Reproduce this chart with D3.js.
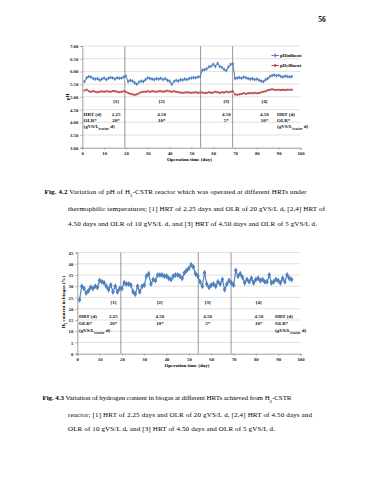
<!DOCTYPE html>
<html><head><meta charset="utf-8">
<script src="https://cdn.jsdelivr.net/npm/d3@7"></script>
<style>
html,body{margin:0;padding:0;background:#fff;}
svg{display:block;}
</style></head>
<body>
<script>
// ---------- DATA ----------
const days = [1,2,3,4,5,6,7,8,9,10,11,12,13,14,15,16,17,18,19,20,
  21,22,23,24,25,26,27,28,29,30,31,32,33,34,35,36,37,38,39,40,41,42,43,44,45,46,47,48,49,50,51,52,53,54,
  55,56,57,58,59,60,61,62,63,64,65,66,67,68,69,
  70,71,72,73,74,75,76,77,78,79,80,81,82,83,84,85,86,87,88,89,90,91,92,93,94,95,96];

const pHinfluent = [5.60,5.75,5.80,5.78,5.72,5.70,5.72,5.66,5.70,5.74,5.68,5.73,5.76,5.74,5.70,5.75,5.73,5.74,5.78,5.82,
  5.60,5.65,5.62,5.55,5.50,5.58,5.62,5.60,5.68,5.75,5.72,5.70,5.68,5.72,5.70,5.73,5.68,5.72,5.65,5.62,5.50,5.60,5.65,5.62,5.68,5.66,5.70,5.68,5.72,5.74,5.76,5.75,5.78,5.80,
  6.05,6.07,6.10,6.18,6.20,6.28,6.20,6.32,6.20,6.15,6.08,6.03,6.18,6.28,6.30,
  5.72,5.74,5.76,5.73,5.78,5.75,5.72,5.70,5.72,5.68,5.70,5.66,5.62,5.60,5.68,5.72,5.80,5.84,5.86,5.83,5.85,5.80,5.78,5.82,5.80,5.78,5.80];

const pHeffluent = [5.25,5.28,5.22,5.20,5.22,5.20,5.18,5.20,5.22,5.20,5.22,5.21,5.20,5.23,5.22,5.20,5.18,5.20,5.22,5.20,
  5.15,5.12,5.10,5.08,5.10,5.14,5.18,5.20,5.20,5.22,5.20,5.22,5.21,5.20,5.22,5.22,5.20,5.22,5.24,5.22,5.20,5.22,5.20,5.18,5.17,5.16,5.17,5.18,5.17,5.16,5.17,5.18,5.16,5.17,
  5.17,5.15,5.16,5.18,5.16,5.17,5.20,5.18,5.16,5.18,5.17,5.20,5.18,5.20,5.22,
  5.10,5.08,5.10,5.12,5.14,5.12,5.14,5.15,5.14,5.16,5.14,5.15,5.18,5.20,5.22,5.26,5.28,5.30,5.28,5.27,5.28,5.27,5.28,5.27,5.28,5.28,5.28];

const h2Content = [24,30,29,27,28,29.5,29,30,29.5,32.5,32,31.5,30,28.5,30.5,27.5,30,27.5,29,29,
  31.5,31,31,30.5,27.5,26.5,30,27.5,30,30.5,34.5,35.5,31,33,32.5,35,35,35,34.5,34.5,33.5,33,34.5,35,35,34.5,33.5,36,37,38,39.5,38.5,35.5,34.5,
  32,30,36,31,29.5,30.5,31,30,32,31,33,28.5,31,32.5,31.5,
  30.5,37,34.5,35.5,34,31.5,33,32,33.5,31.5,33,33.5,32.5,33,32,32,35,31.5,32,33,32.5,31.5,33.5,32,35,33.5,33];

const xTicks = [0,10,20,30,40,50,60,70,80,90,100];
const pHTicks = [3.0,3.5,4.0,4.5,5.0,5.5,6.0,6.5,7.0];
const h2Ticks = [0,5,10,15,20,25,30,35,40,45];
const phaseBoundaries = [19.5, 54.2, 68.9];
const phaseNames = ["[1]","[2]","[3]","[4]"];
const hrtValues = ["2.25","4.50","4.50","4.50"];
const olrValues = ["20*","10*","5*","10*"];
const seriesNames = ["pHinfluent","pHeffluent"];

// ---------- LAYOUT ----------
const W = 370, H = 480;
const BLUE = "#4F81BD", RED = "#C0504D";
const serif = "'Liberation Serif','Times New Roman',serif";
const svg = d3.select("body").append("svg").attr("width", W).attr("height", H);

svg.append("text").attr("x", 322).attr("y", 22).attr("text-anchor","middle")
  .attr("font-family", serif).attr("font-size", 7.5).attr("font-weight","bold").text("56");

function drawChart(c) {
  const g = svg.append("g");
  const x = d3.scaleLinear().domain([0,100]).range([c.x0, c.x1]);
  const y = d3.scaleLinear().domain(c.yDomain).range([c.yBottom, c.yTop]);

  g.append("g").selectAll("line").data(c.yTicks.slice(1)).join("line")
    .attr("x1", c.x0).attr("x2", c.x1).attr("y1", d => y(d)).attr("y2", d => y(d))
    .attr("stroke", "#D9D9D9").attr("stroke-width", 0.8);

  g.append("g").selectAll("line").data(phaseBoundaries).join("line")
    .attr("x1", d => x(d)).attr("x2", d => x(d)).attr("y1", c.yTop).attr("y2", c.yBottom)
    .attr("stroke", "#8C8C8C").attr("stroke-width", 0.9);

  const yAxis = d3.axisLeft(y).tickValues(c.yTicks).tickFormat(c.yFmt).tickSize(2).tickPadding(2);
  const xAxis = d3.axisBottom(x).tickValues(xTicks).tickFormat(d3.format("d")).tickSize(2).tickPadding(2);
  const ya = g.append("g").attr("transform", `translate(${c.x0},0)`).call(yAxis);
  const xa = g.append("g").attr("transform", `translate(0,${c.yBottom})`).call(xAxis);
  [ya, xa].forEach(a => {
    a.select(".domain").attr("stroke", "#868686").attr("stroke-width", 0.8);
    a.selectAll(".tick line").attr("stroke", "#868686").attr("stroke-width", 0.6);
    a.selectAll(".tick text").attr("font-family", serif).attr("font-size", 4.8)
      .attr("font-weight", "bold").attr("fill", "#222");
  });

  g.append("text").attr("x", (c.x0 + c.x1) / 2 - 2).attr("y", c.yBottom + 13.5)
    .attr("text-anchor", "middle").attr("font-family", serif).attr("font-size", 5)
    .attr("font-weight", "bold").text("Operation time (day)");
  const yt = g.append("text").attr("transform", `translate(${c.yLabelX},${c.yLabelY}) rotate(-90)`)
    .attr("text-anchor", "middle").attr("font-family", serif).attr("font-size", 5)
    .attr("font-weight", "bold");
  c.yLabel.forEach(p => {
    const t = yt.append("tspan").text(p.t);
    if (p.sub) t.attr("baseline-shift", "sub").attr("font-size", 3.5);
  });

  c.series.forEach(s => {
    const pts = days.map((d, i) => [d, s.values[i]]);
    g.append("path").datum(pts).attr("fill", "none").attr("stroke", s.color).attr("stroke-width", s.width)
      .attr("d", d3.line().x(d => x(d[0])).y(d => y(d[1])));
    g.append("g").selectAll("path").data(pts).join("path")
      .attr("transform", d => `translate(${x(d[0])},${y(d[1])})`)
      .attr("d", d3.symbol(s.symbol, s.size)).attr("fill", s.color);
  });

  const txt = (xx, yy, t, anchor) => g.append("text").attr("x", xx).attr("y", yy)
    .attr("text-anchor", anchor || "middle").attr("font-family", serif).attr("font-size", 5)
    .attr("font-weight", "bold").attr("fill", "#111").text(t);
  phaseNames.forEach((n, i) => {
    txt(x(c.labelDays[i]), c.rowY[0], n);
    txt(x(c.labelDays[i]), c.rowY[1], hrtValues[i]);
    txt(x(c.labelDays[i]), c.rowY[2], olrValues[i]);
  });
  const unitBlock = (xx) => {
    txt(xx, c.rowY[1], "HRT (d)", "start");
    txt(xx, c.rowY[2], "OLR*", "start");
    const t = txt(xx, c.rowY[3], "", "start");
    t.append("tspan").text("(gVS/L");
    t.append("tspan").attr("baseline-shift", "sub").attr("font-size", 3.3).text("reactor");
    t.append("tspan").text(" d)");
  };
  unitBlock(c.leftBlockX);
  unitBlock(c.rightBlockX);
  return {x, y, g};
}

const c1 = drawChart({
  x0: 82.3, x1: 300.5, yTop: 46, yBottom: 147.7, yDomain: [3, 7], yTicks: pHTicks,
  yFmt: d3.format(".2f"), yLabelX: 68.5, yLabelY: 97, yLabel: [{t: "pH"}],
  series: [
    {values: pHinfluent, color: BLUE, symbol: d3.symbolDiamond, size: 5, width: 1},
    {values: pHeffluent, color: RED, symbol: d3.symbolSquare, size: 4, width: 1}
  ],
  labelDays: [15.5, 36.4, 66, 83.5],
  rowY: [103, 115.5, 121.5, 128],
  leftBlockX: 83.5, rightBlockX: 277
});
[[BLUE, d3.symbolDiamond, 55.5], [RED, d3.symbolSquare, 65.5]].forEach((l, i) => {
  c1.g.append("line").attr("x1", 271.5).attr("x2", 279).attr("y1", l[2]).attr("y2", l[2])
    .attr("stroke", l[0]).attr("stroke-width", 1);
  c1.g.append("path").attr("transform", `translate(275.2,${l[2]})`).attr("d", d3.symbol(l[1], 6)).attr("fill", l[0]);
  c1.g.append("text").attr("x", 280).attr("y", l[2] + 1.7).attr("font-family", serif)
    .attr("font-size", 4.6).attr("font-weight", "bold").text(seriesNames[i]);
});

drawChart({
  x0: 77.3, x1: 300.5, yTop: 252.5, yBottom: 353.7, yDomain: [0, 45], yTicks: h2Ticks,
  yFmt: d3.format("d"), yLabelX: 65, yLabelY: 302,
  yLabel: [{t: "H"}, {t: "2", sub: true}, {t: " content in biogas (%)"}],
  series: [{values: h2Content, color: BLUE, symbol: d3.symbolDiamond, size: 11, width: 1.2}],
  labelDays: [16.2, 37, 58.4, 81.3],
  rowY: [304, 318, 325, 332],
  leftBlockX: 79, rightBlockX: 275
});

// ---------- CAPTIONS ----------
function caption(yy, x0, len, parts) {
  const t = svg.append("text").attr("x", x0).attr("y", yy).attr("font-family", serif)
    .attr("font-size", 7.0).attr("fill", "#000").attr("textLength", len).attr("lengthAdjust", "spacing");
  parts.forEach(p => {
    const s = t.append("tspan").text(p.t);
    if (p.b) s.attr("font-weight", "bold");
    if (p.sub) s.attr("baseline-shift", "sub").attr("font-size", 4.8);
  });
}
caption(193.5, 44.5, 262, [{t: "Fig. 4.2", b: true}, {t: " Variation of pH of H"}, {t: "2", sub: true}, {t: "-CSTR reactor which was operated at different HRTs under"}]);
caption(210.5, 68, 257, [{t: "thermophilic temperatures; [1] HRT of 2.25 days and OLR of 20 gVS/L d, [2,4] HRT of"}]);
caption(225.5, 68, 249, [{t: "4.50 days and OLR of 10 gVS/L d, and [3] HRT of 4.50 days and OLR of 5 gVS/L d."}]);
caption(400, 42.5, 249, [{t: "Fig. 4.3", b: true}, {t: " Variation of hydrogen content in biogas at different HRTs achieved from H"}, {t: "2", sub: true}, {t: "-CSTR"}]);
caption(416.5, 68, 244, [{t: "reactor; [1] HRT of 2.25 days and OLR of 20 gVS/L d, [2,4] HRT of 4.50 days and"}]);
caption(431, 68, 207, [{t: "OLR of 10 gVS/L d, and [3] HRT of 4.50 days and OLR of 5 gVS/L d."}]);
</script>
</body></html>
